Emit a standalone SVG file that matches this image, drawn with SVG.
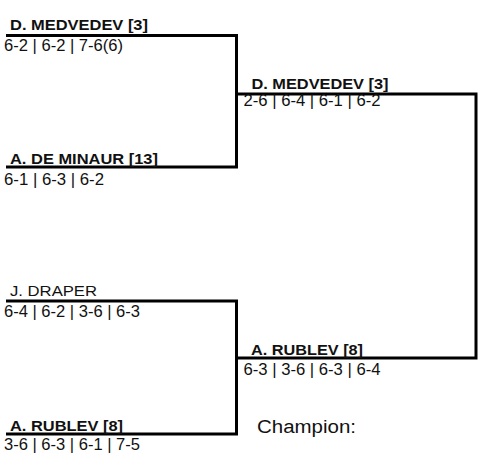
<svg xmlns="http://www.w3.org/2000/svg" width="483" height="458" viewBox="0 0 483 458">
<style>
.bg{fill:#fff}
.ln{fill:none;stroke:#000;stroke-width:3;stroke-linejoin:miter;stroke-linecap:butt}
.nm{font-family:"Liberation Sans",Arial,sans-serif;font-size:15px;font-weight:bold;fill:#111}
.nr{font-family:"Liberation Sans",Arial,sans-serif;font-size:15px;fill:#111}
.sc{font-family:"Liberation Sans",Arial,sans-serif;font-size:16px;fill:#111}
.ch{font-family:"Liberation Sans",Arial,sans-serif;font-size:18px;fill:#111}
</style>
<rect class="bg" x="0" y="0" width="483" height="458"/>
<g id="connectors">
<path class="ln" d="M6,35.5 H236.5 V167 H6"/>
<path class="ln" d="M236.5,94 H476 V358 H236.5"/>
<path class="ln" d="M6,301 H236.5 V434 H6"/>
</g>
<g id="r1-medvedev">
<text class="nm" x="10" y="30" textLength="138" lengthAdjust="spacingAndGlyphs">D. MEDVEDEV [3]</text>
<text class="sc" x="4" y="51" textLength="119" lengthAdjust="spacingAndGlyphs">6-2 | 6-2 | 7-6(6)</text>
</g>
<g id="r1-deminaur">
<text class="nm" x="10" y="164" textLength="148" lengthAdjust="spacingAndGlyphs">A. DE MINAUR [13]</text>
<text class="sc" x="4" y="185" textLength="100" lengthAdjust="spacingAndGlyphs">6-1 | 6-3 | 6-2</text>
</g>
<g id="r1-draper">
<text class="nr" x="10" y="296" textLength="87" lengthAdjust="spacingAndGlyphs">J. DRAPER</text>
<text class="sc" x="4" y="317" textLength="136" lengthAdjust="spacingAndGlyphs">6-4 | 6-2 | 3-6 | 6-3</text>
</g>
<g id="r1-rublev">
<text class="nm" x="10" y="431" textLength="113" lengthAdjust="spacingAndGlyphs">A. RUBLEV [8]</text>
<text class="sc" x="4" y="450" textLength="136" lengthAdjust="spacingAndGlyphs">3-6 | 6-3 | 6-1 | 7-5</text>
</g>
<g id="r2-medvedev">
<text class="nm" x="251.5" y="88.5" textLength="137" lengthAdjust="spacingAndGlyphs">D. MEDVEDEV [3]</text>
<text class="sc" x="243.5" y="106" textLength="137" lengthAdjust="spacingAndGlyphs">2-6 | 6-4 | 6-1 | 6-2</text>
</g>
<g id="r2-rublev">
<text class="nm" x="251" y="355" textLength="112" lengthAdjust="spacingAndGlyphs">A. RUBLEV [8]</text>
<text class="sc" x="243.5" y="375" textLength="137" lengthAdjust="spacingAndGlyphs">6-3 | 3-6 | 6-3 | 6-4</text>
</g>
<g id="champion">
<text class="ch" x="257" y="432.5" textLength="99" lengthAdjust="spacingAndGlyphs">Champion:</text>
</g>
</svg>
